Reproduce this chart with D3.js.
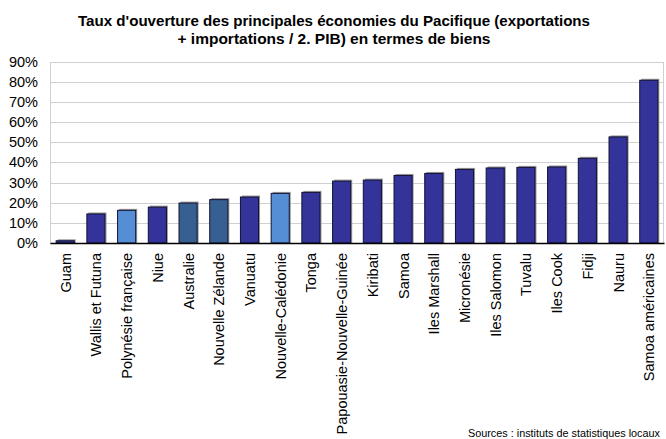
<!DOCTYPE html>
<html>
<head>
<meta charset="utf-8">
<script src="https://cdn.jsdelivr.net/npm/d3@7"></script>
<style>
  html, body { margin: 0; padding: 0; background: #fff; }
  svg { display: block; font-family: "Liberation Sans", Arial, sans-serif; }
</style>
</head>
<body>
<svg id="chart" width="666" height="439"></svg>
<script>
// Openness rate (exports + imports) / 2 GDP, goods only
const categories = ["Guam", "Wallis et Futuna", "Polynésie française", "Niue", "Australie",
  "Nouvelle Zélande", "Vanuatu", "Nouvelle-Calédonie", "Tonga", "Papouasie-Nouvelle-Guinée",
  "Kiribati", "Samoa", "Iles Marshall", "Micronésie", "Iles Salomon", "Tuvalu", "Iles Cook",
  "Fidji", "Nauru", "Samoa américaines"];
const values = [1.1, 14.4, 16.2, 17.8, 19.8, 21.5, 22.8, 24.6, 25.1, 30.7,
  31.2, 33.5, 34.5, 36.5, 37.2, 37.5, 37.7, 42.0, 52.6, 80.7];
// colour group per territory: 0 = Pacific island economies, 1 = French territories, 2 = Australia / NZ
const groups = [0, 0, 1, 0, 2, 2, 0, 1, 0, 0, 0, 0, 0, 0, 0, 0, 0, 0, 0, 0];
const groupColors = ["#333399", "#558ed5", "#376092"];
const yTicks = [0, 10, 20, 30, 40, 50, 60, 70, 80, 90];
const titleLines = ["Taux d'ouverture des principales économies du Pacifique (exportations",
  "+ importations / 2. PIB) en termes de biens"];
const titleWidths = [512, 313];
const sourceText = "Sources : instituts de statistiques locaux";

const svg = d3.select("#chart");
const m = { left: 50, right: 2, top: 61.5, bottom: 196 };
const W = 666, H = 439;
const x0 = m.left, x1 = W - m.right, y0 = H - m.bottom, y1 = m.top;

const x = d3.scaleBand().domain(categories).range([x0, x1]).paddingInner(0.41).paddingOuter(0.2);
const y = d3.scaleLinear().domain([0, 90]).range([y0, y1]);

// title
svg.append("g").selectAll("text").data(titleLines).join("text")
  .attr("x", 334).attr("y", (d, i) => 25.5 + i * 18.5)
  .attr("text-anchor", "middle")
  .attr("font-size", 14.6).attr("font-weight", "bold").attr("fill", "#000")
  .attr("textLength", (d, i) => titleWidths[i]).attr("lengthAdjust", "spacingAndGlyphs")
  .text(d => d);

// plot frame + gridlines
svg.append("rect").attr("x", x0 + 0.5).attr("y", Math.round(y1) + 0.5)
  .attr("width", x1 - x0 - 1).attr("height", y0 - Math.round(y1))
  .attr("fill", "none").attr("stroke", "#d0d0d0").attr("stroke-width", 1);
svg.append("g").selectAll("line").data(yTicks.filter(t => t > 0)).join("line")
  .attr("x1", x0).attr("x2", x1)
  .attr("y1", d => Math.round(y(d)) + 0.5).attr("y2", d => Math.round(y(d)) + 0.5)
  .attr("stroke", "#d0d0d0").attr("stroke-width", 1);

// y axis labels
const yAxis = d3.axisLeft(y).tickValues(yTicks).tickFormat(d => d + "%").tickSize(0).tickPadding(12);
const yg = svg.append("g").attr("transform", `translate(${x0},0)`).call(yAxis);
yg.select(".domain").remove();
yg.selectAll("text").attr("font-size", 14.5).attr("fill", "#000")
  .attr("font-family", "'Liberation Sans', Arial, sans-serif");

// bars with a soft shadow
const bars = svg.append("g");
bars.selectAll("rect.shadow").data(values).join("rect").attr("class", "shadow")
  .attr("x", (d, i) => x(categories[i]) + 1.5)
  .attr("y", d => y(d) - 1.5)
  .attr("width", x.bandwidth())
  .attr("height", d => y0 - y(d) + 1.5)
  .attr("fill", "#9a9a9a");
bars.selectAll("rect.bar").data(values).join("rect").attr("class", "bar")
  .attr("x", (d, i) => x(categories[i]))
  .attr("y", d => y(d))
  .attr("width", x.bandwidth())
  .attr("height", d => y0 - y(d))
  .attr("fill", (d, i) => groupColors[groups[i]])
  .attr("stroke", "#111133").attr("stroke-width", 1);

// x axis
const xAxis = d3.axisBottom(x).tickSize(0).tickPadding(0);
const xg = svg.append("g").attr("transform", `translate(0,${y0})`).call(xAxis);
xg.select(".domain").attr("stroke", "#000").attr("stroke-width", 1.5);
xg.selectAll(".tick text")
  .attr("font-size", 14.5).attr("fill", "#000")
  .attr("font-family", "'Liberation Sans', Arial, sans-serif")
  .attr("text-anchor", "end")
  .attr("dy", null).attr("y", 0)
  .attr("transform", "translate(5.5,10) rotate(-90)");

// source note
svg.append("text").attr("x", 660).attr("y", 437).attr("text-anchor", "end")
  .attr("font-size", 11).attr("fill", "#000")
  .attr("textLength", 192).attr("lengthAdjust", "spacingAndGlyphs")
  .text(sourceText);
</script>
</body>
</html>
